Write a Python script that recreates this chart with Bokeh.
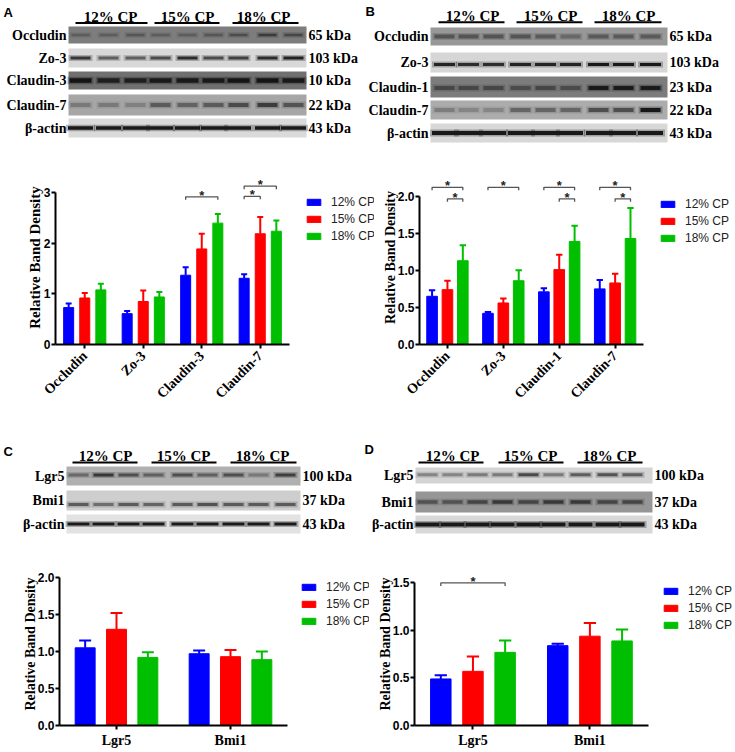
import math
from bokeh.plotting import figure
from bokeh.layouts import column, row
from bokeh.models import Range1d, FixedTicker, Legend, LegendItem, ColumnDataSource, PrintfTickFormatter
from bokeh.core.properties import value
from bokeh.embed import file_html
from bokeh.resources import INLINE

SERIF = "Liberation Serif"
SANS = "Liberation Sans"

# ---------------- data ----------------
series = ["12% CP", "15% CP", "18% CP"]
series_colors = ["#0000FF", "#FF0000", "#00BF00"]

# Panel A
a_categories = ["Occludin", "Zo-3", "Claudin-3", "Claudin-7"]
a_cp12 = [0.73, 0.61, 1.37, 1.31]
a_cp12_sem = [0.08, 0.05, 0.16, 0.08]
a_cp15 = [0.92, 0.85, 1.89, 2.19]
a_cp15_sem = [0.10, 0.22, 0.30, 0.33]
a_cp18 = [1.08, 0.94, 2.40, 2.24]
a_cp18_sem = [0.12, 0.10, 0.18, 0.21]
a_yticks = [0, 1, 2, 3]
a_sig = [("Claudin-3", 0, 2, 2.92), ("Claudin-7", 0, 1, 2.93), ("Claudin-7", 0, 2, 3.13)]

# Panel B
b_categories = ["Occludin", "Zo-3", "Claudin-1", "Claudin-7"]
b_cp12 = [0.65, 0.42, 0.71, 0.75]
b_cp12_sem = [0.08, 0.02, 0.05, 0.12]
b_cp15 = [0.74, 0.56, 1.01, 0.83]
b_cp15_sem = [0.12, 0.06, 0.20, 0.125]
b_cp18 = [1.13, 0.86, 1.39, 1.43]
b_cp18_sem = [0.21, 0.14, 0.21, 0.41]
b_yticks = [0.0, 0.5, 1.0, 1.5, 2.0]
b_sig = [("Occludin", 0, 2, 2.12), ("Occludin", 1, 2, 1.965), ("Zo-3", 0, 2, 2.12),
         ("Claudin-1", 0, 2, 2.12), ("Claudin-1", 1, 2, 1.965),
         ("Claudin-7", 0, 2, 2.12), ("Claudin-7", 1, 2, 1.965)]

# Panel C
c_categories = ["Lgr5", "Bmi1"]
c_cp12 = [1.05, 0.97]
c_cp12_sem = [0.10, 0.045]
c_cp15 = [1.30, 0.93]
c_cp15_sem = [0.22, 0.09]
c_cp18 = [0.92, 0.89]
c_cp18_sem = [0.07, 0.11]
c_yticks = [0.0, 0.5, 1.0, 1.5, 2.0]
c_sig = []

# Panel D
d_categories = ["Lgr5", "Bmi1"]
d_cp12 = [0.49, 0.84]
d_cp12_sem = [0.04, 0.02]
d_cp15 = [0.57, 0.94]
d_cp15_sem = [0.155, 0.14]
d_cp18 = [0.77, 0.89]
d_cp18_sem = [0.125, 0.12]
d_yticks = [0.0, 0.5, 1.0, 1.5]
d_sig = [("Lgr5", 0, 2, 1.5)]

# Western blot labels
blot_a_rows = ["Occludin", "Zo-3", "Claudin-3", "Claudin-7", "β-actin"]
blot_a_kda = ["65 kDa", "103 kDa", "10 kDa", "22 kDa", "43 kDa"]
blot_b_rows = ["Occludin", "Zo-3", "Claudin-1", "Claudin-7", "β-actin"]
blot_b_kda = ["65 kDa", "103 kDa", "23 kDa", "22 kDa", "43 kDa"]
blot_c_rows = ["Lgr5", "Bmi1", "β-actin"]
blot_c_kda = ["100 kDa", "37 kDa", "43 kDa"]
blot_d_rows = ["Lgr5", "Bmi1", "β-actin"]
blot_d_kda = ["100 kDa", "37 kDa", "43 kDa"]

# band darkness per lane (appearance of the blot picture)
blot_a_band = [[0.30, 0.30, 0.35, 0.30, 0.30, 0.35, 0.45, 0.60, 0.50],
               [0.80, 0.60, 0.60, 0.70, 0.85, 0.70, 0.75, 0.85, 0.90],
               [0.95, 0.85, 0.85, 0.90, 0.90, 0.90, 0.95, 0.95, 0.90],
               [0.30, 0.30, 0.25, 0.50, 0.45, 0.50, 0.60, 0.70, 0.55],
               [0.95] * 9]
blot_b_band = [[0.50, 0.50, 0.50, 0.50, 0.45, 0.35, 0.45, 0.45, 0.45],
               [0.90, 0.85, 0.85, 0.90, 0.90, 0.90, 0.95, 0.95, 0.95],
               [0.50, 0.50, 0.50, 0.45, 0.50, 0.45, 0.90, 0.90, 0.90],
               [0.30, 0.25, 0.25, 0.45, 0.45, 0.45, 0.60, 0.60, 0.95],
               [0.95] * 9]
blot_c_band = [[0.45, 0.75, 0.60, 0.50, 0.60, 0.50, 0.60, 0.35, 0.70],
               [0.60, 0.50, 0.60, 0.55, 0.60, 0.65, 0.60, 0.60, 0.60],
               [0.95] * 9]
blot_d_band = [[0.40, 0.40, 0.45, 0.45, 0.70, 0.45, 0.60, 0.65, 0.60],
               [0.50, 0.50, 0.60, 0.70, 0.60, 0.70, 0.70, 0.60, 0.60],
               [0.95] * 9]


def gray(v):
    v = max(0, min(255, int(round(v))))
    return "#%02x%02x%02x" % (v, v, v)


def blot_panel(W, H, x0, y0, letter, letter_xy, header_cx, header_y, underline_spans, underline_y,
               strip_x, strips_y, lanes, rows, kdas, bgs, bands, band_w, band_h, band_pos,
               label_x, kda_x):
    p = figure(width=W, height=H, x_range=Range1d(x0, x0 + W), y_range=Range1d(y0 + H, y0),
               x_axis_type=None, y_axis_type=None, output_backend="svg", toolbar_location=None,
               min_border=0)
    p.outline_line_color = None
    p.background_fill_color = "white"
    p.border_fill_color = "white"
    n = len(rows)
    p.quad(left=[strip_x[0]] * n, right=[strip_x[1]] * n,
           top=[s[0] for s in strips_y], bottom=[s[1] for s in strips_y],
           fill_color=[gray(b) for b in bgs], line_color=None)
    bx, by, bw, bh, bc = [], [], [], [], []
    for r in range(n):
        top, bot = strips_y[r]
        for l, lx in enumerate(lanes):
            it = bands[r][l]
            bx.append(lx)
            by.append(top + band_pos[r] * (bot - top))
            bw.append(band_w[r])
            bh.append(band_h[r])
            bc.append(gray(bgs[r] * (1 - it) + 15 * it))
    p.rect(x=bx, y=by, width=[w + 4 for w in bw], height=[h + 3 for h in bh],
           fill_color=bc, fill_alpha=0.3, line_color=None)
    p.rect(x=bx, y=by, width=bw, height=bh, fill_color=bc, line_color=None)
    cy = [(s[0] + s[1]) / 2 for s in strips_y]
    p.text(x=[label_x] * n, y=cy, text=rows, text_font=value(SERIF), text_font_style="bold",
           text_font_size="14px", text_align="right", text_baseline="middle", text_color="black")
    p.text(x=[kda_x] * n, y=cy, text=kdas, text_font=value(SERIF), text_font_style="bold",
           text_font_size="14px", text_align="left", text_baseline="middle", text_color="black")
    p.text(x=header_cx, y=[header_y] * 3, text=series, text_font=value(SERIF), text_font_style="bold",
           text_font_size="15px", text_align="center", text_baseline="middle", text_color="black")
    p.segment(x0=[s[0] for s in underline_spans], x1=[s[1] for s in underline_spans],
              y0=[underline_y] * 3, y1=[underline_y] * 3, line_color="black", line_width=2)
    p.text(x=[letter_xy[0]], y=[letter_xy[1]], text=[letter], text_font=value(SANS),
           text_font_style="bold", text_font_size="13px", text_align="left", text_baseline="top",
           text_color="black")
    return p


def bar_chart(cats, means, sems, sig, yticks, yfmt, W, H, ml, mr, mt, mb, x_end, y_end,
              bar_w, rot, ylab_size, ylab_standoff, legend_xy, xlab_size, xlab_standoff):
    p = figure(width=W, height=H, x_range=Range1d(0, x_end), y_range=Range1d(0, y_end),
               output_backend="svg", toolbar_location=None,
               min_border_left=ml, min_border_right=mr, min_border_top=mt, min_border_bottom=mb)
    p.outline_line_color = None
    p.xgrid.visible = False
    p.ygrid.visible = False
    frame_h = H - mt - mb
    sy = frame_h / y_end
    n = len(cats)
    offs = [-0.275, 0.0, 0.275]
    rends = []
    for k in range(3):
        c = series_colors[k]
        xs = [i + 0.5 + offs[k] for i in range(n)]
        up = [m + s for m, s in zip(means[k], sems[k])]
        cap = 0.3 * bar_w
        src = ColumnDataSource(dict(x=xs, top=means[k], up=up,
                                    xl=[x - cap for x in xs], xr=[x + cap for x in xs]))
        r = p.vbar(x="x", top="top", bottom=0, width=bar_w, source=src,
                   fill_color=c, line_color=c, line_width=1)
        p.segment(x0="x", y0="top", x1="x", y1="up", source=src, line_color=c, line_width=2)
        p.segment(x0="xl", y0="up", x1="xr", y1="up", source=src, line_color=c, line_width=2)
        rends.append(r)
    # significance brackets
    if sig:
        bxs, bys, sx_, sy_ = [], [], [], []
        d = 3.0 / sy
        for cat, i, j, lvl in sig:
            ci = cats.index(cat)
            x1 = ci + 0.5 + offs[i]
            x2 = ci + 0.5 + offs[j]
            bxs.append([x1, x1, x2, x2])
            bys.append([lvl - d, lvl, lvl, lvl - d])
            sx_.append((x1 + x2) / 2)
            sy_.append(lvl + 1.5 / sy)
        p.multi_line(xs=bxs, ys=bys, line_color="#555555", line_width=1.3)
        p.text(x=sx_, y=sy_, text=["*"] * len(sx_), text_font=value(SANS), text_font_size="13px",
               text_font_style="bold", text_align="center", text_baseline="middle",
               text_color="#222222")
    for ax in (p.xaxis[0], p.yaxis[0]):
        ax.axis_line_width = 2
        ax.axis_line_color = "black"
        ax.major_tick_line_width = 2
        ax.major_tick_line_color = "black"
        ax.major_tick_out = 4
        ax.major_tick_in = 0
        ax.minor_tick_line_color = None
        ax.major_label_text_color = "black"
    p.yaxis.ticker = FixedTicker(ticks=yticks)
    p.yaxis.bounds = (0, yticks[-1])
    if yfmt:
        p.yaxis.formatter = PrintfTickFormatter(format=yfmt)
    p.yaxis.major_label_text_font = SANS
    p.yaxis.major_label_text_font_style = "bold"
    p.yaxis.major_label_text_font_size = "12px"
    p.yaxis.major_label_standoff = 1
    p.yaxis.axis_label = "Relative Band Density"
    p.yaxis.axis_label_text_font = SERIF
    p.yaxis.axis_label_text_font_style = "bold"
    p.yaxis.axis_label_text_font_size = ylab_size
    p.yaxis.axis_label_text_color = "black"
    p.yaxis.axis_label_standoff = ylab_standoff
    p.xaxis.ticker = FixedTicker(ticks=[i + 0.5 for i in range(n)])
    p.xaxis.major_label_overrides = {i + 0.5: c for i, c in enumerate(cats)}
    p.xaxis.bounds = (0, n)
    p.xaxis.major_label_orientation = rot
    p.xaxis.major_label_text_font = SERIF
    p.xaxis.major_label_text_font_style = "bold"
    p.xaxis.major_label_text_font_size = xlab_size
    p.xaxis.major_label_standoff = xlab_standoff
    leg = Legend(items=[LegendItem(label=value(s), renderers=[r]) for s, r in zip(series, rends)],
                 location=legend_xy, orientation="vertical", glyph_width=17, glyph_height=8,
                 label_height=14, spacing=3, label_standoff=9, padding=0, margin=0,
                 border_line_color=None, background_fill_alpha=0,
                 label_text_font=SANS, label_text_font_size="12px", label_text_color="#222222")
    p.add_layout(leg)
    return p


blotA = blot_panel(364, 150, 0, 0, "A", (3, 4), [110, 187, 263], 16,
                   [(75, 147), (154, 219), (232, 298)], 22.5, (68, 306),
                   [(26, 43), (48, 67), (71, 89), (94, 115), (118, 137)],
                   [80, 108, 135, 160, 187, 213, 238, 267, 293],
                   blot_a_rows, blot_a_kda, [125, 216, 112, 166, 218], blot_a_band,
                   [18, 20, 22, 20, 25], [2.5, 3, 4.5, 4, 3.5], [0.5, 0.5, 0.5, 0.5, 0.5], 66, 308)
blotB = blot_panel(371, 150, 364, 0, "B", (365, 3), [472, 550, 628], 15,
                   [(438, 504), (516, 582), (594, 661)], 21.7, (430, 667),
                   [(27, 45), (52, 72), (76, 97), (100, 119), (123, 142)],
                   [444, 468, 493, 520, 545, 570, 598, 623, 650],
                   blot_b_rows, blot_b_kda, [152, 214, 124, 172, 216], blot_b_band,
                   [20, 21, 20, 20, 25], [4, 3, 4, 4, 4], [0.5, 0.6, 0.55, 0.5, 0.5], 428, 669)
blotC = blot_panel(362, 120, 0, 440, "C", (3, 443), [105, 183, 262], 455,
                   [(72, 137), (151, 216), (230, 296)], 462, (66, 300),
                   [(466, 485), (490, 510), (514, 533)],
                   [78, 103, 128, 153, 182, 207, 233, 258, 285],
                   blot_c_rows, blot_c_kda, [176, 206, 226], blot_c_band,
                   [20, 20, 22], [3, 3, 3], [0.45, 0.7, 0.5], 64, 302)
blotD = blot_panel(373, 120, 362, 440, "D", (364, 441), [452, 530, 609], 455,
                   [(418, 483), (498, 563), (577, 642)], 462, (415, 652),
                   [(467, 483), (491, 512), (515, 533)],
                   [427, 452, 477, 502, 528, 553, 580, 607, 632],
                   blot_d_rows, blot_d_kda, [212, 150, 216], blot_d_band,
                   [20, 20, 24], [3, 3.5, 4], [0.45, 0.5, 0.5], 413, 654)

barA = bar_chart(a_categories, [a_cp12, a_cp15, a_cp18], [a_cp12_sem, a_cp15_sem, a_cp18_sem], a_sig,
                 a_yticks, None, 379, 290, 55, 5, 20, 96, 319 / 58.5, 174 / 50.57, 0.171,
                 math.pi / 4, "15px", -2, (250, 101), "14px", 5)
barB = bar_chart(b_categories, [b_cp12, b_cp15, b_cp18], [b_cp12_sem, b_cp15_sem, b_cp18_sem], b_sig,
                 b_yticks, "%.1f", 356, 290, 38, 2, 20, 94, 316 / 56.25, 176 / 75.0, 0.19,
                 math.pi / 4, "14px", -3, (240, 99), "14px", 5)
barC = bar_chart(c_categories, [c_cp12, c_cp15, c_cp18], [c_cp12_sem, c_cp15_sem, c_cp18_sem], c_sig,
                 c_yticks, "%.1f", 374, 190, 59, 5, 2, 25, 310 / 114.0, 163 / 74.0, 0.175,
                 "horizontal", "14px", -3, (241, 97), "14px", 3)
barD = bar_chart(d_categories, [d_cp12, d_cp15, d_cp18], [d_cp12_sem, d_cp15_sem, d_cp18_sem], d_sig,
                 d_yticks, "%.1f", 361, 190, 39, 2, 2, 24, 320 / 117.3, 164 / 95.6, 0.175,
                 "horizontal", "14px", -3, (248, 93), "14px", 3)

layout = column(row(blotA, blotB), row(barA, barB), row(blotC, blotD), row(barC, barD))

open("out.html", "w").write(file_html(layout, INLINE))
